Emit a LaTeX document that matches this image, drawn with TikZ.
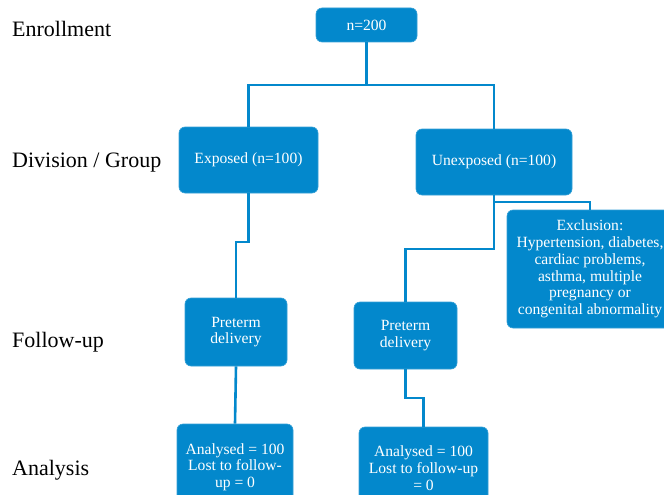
\documentclass[tikz,border=0pt]{standalone}
\usepackage{fontspec}
\setmainfont{Liberation Serif}
\usepackage{tikz}
\definecolor{flowblue}{RGB}{3,136,204}

\begin{document}
\begin{tikzpicture}[x=1pt,y=-1pt,
	box/.style={rectangle,rounded corners=6pt,fill=flowblue,draw=flowblue!80!white,line width=.6pt,text=white,align=center,inner sep=2pt,font=\fontsize{15.6}{16.7}\selectfont},
	stage/.style={anchor=base west,inner sep=0pt,font=\fontsize{22}{26}\selectfont},
	link/.style={draw=flowblue,line width=2.6pt}]
	\useasboundingbox (0,0) rectangle (664,495);

	% stages on the left
	\node[stage] (enrol) at (12,37) {Enrollment};
	\node[stage] (group) at (12,167) {Division / Group};
	\node[stage] (follow) at (12,347) {Follow-up};
	\node[stage] (anal) at (12,475) {Analysis};

	% boxes
	\node[box,minimum width=101pt,minimum height=34pt] (total) at (366.5,25) {n=200};
	\node[box,minimum width=139pt,minimum height=66pt] (exp) at (248.5,160) {Exposed (n=100)};
	\node[box,minimum width=156pt,minimum height=66pt] (unexp) at (494,162) {Unexposed (n=100)};
	\node[box,minimum width=166pt,minimum height=118pt] (excl) at (590,269)
		{Exclusion:\\Hypertension, diabetes,\\cardiac problems,\\asthma, multiple\\pregnancy or\\congenital abnormality};
	\node[box,minimum width=102pt,minimum height=68pt] (pre1) at (236,332) {Preterm\\delivery};
	\node[box,minimum width=103pt,minimum height=67pt] (pre2) at (405.5,335.5) {Preterm\\delivery};
	\node[box,minimum width=116pt,minimum height=86pt] (ana1) at (235,467) {Analysed = 100\\Lost to follow-\\up = 0};
	\node[box,minimum width=129pt,minimum height=82pt] (ana2) at (423.5,468) {Analysed = 100\\Lost to follow-up\\= 0};

	% bends
	\coordinate (split) at (366.5,85);
	\coordinate (j1) at (240,242);
	\coordinate (b2) at (494,202);
	\coordinate (j2) at (450,249);
	\coordinate (j3) at (415,398);

	\draw[link] (total.south) -- (split) -| (exp.north);
	\draw[link] (split) -| (unexp.north);
	\draw[link] (exp.south) |- (j1) -| (pre1.north);
	\draw[link] (unexp.south) -- (b2) -| (excl.north);
	\draw[link] (b2) |- (j2) -| (pre2.north);
	\draw[link] (pre1.south) -- (ana1.north);
	\draw[link] (pre2.south) |- (j3) -| (ana2.north);
\end{tikzpicture}
\end{document}
